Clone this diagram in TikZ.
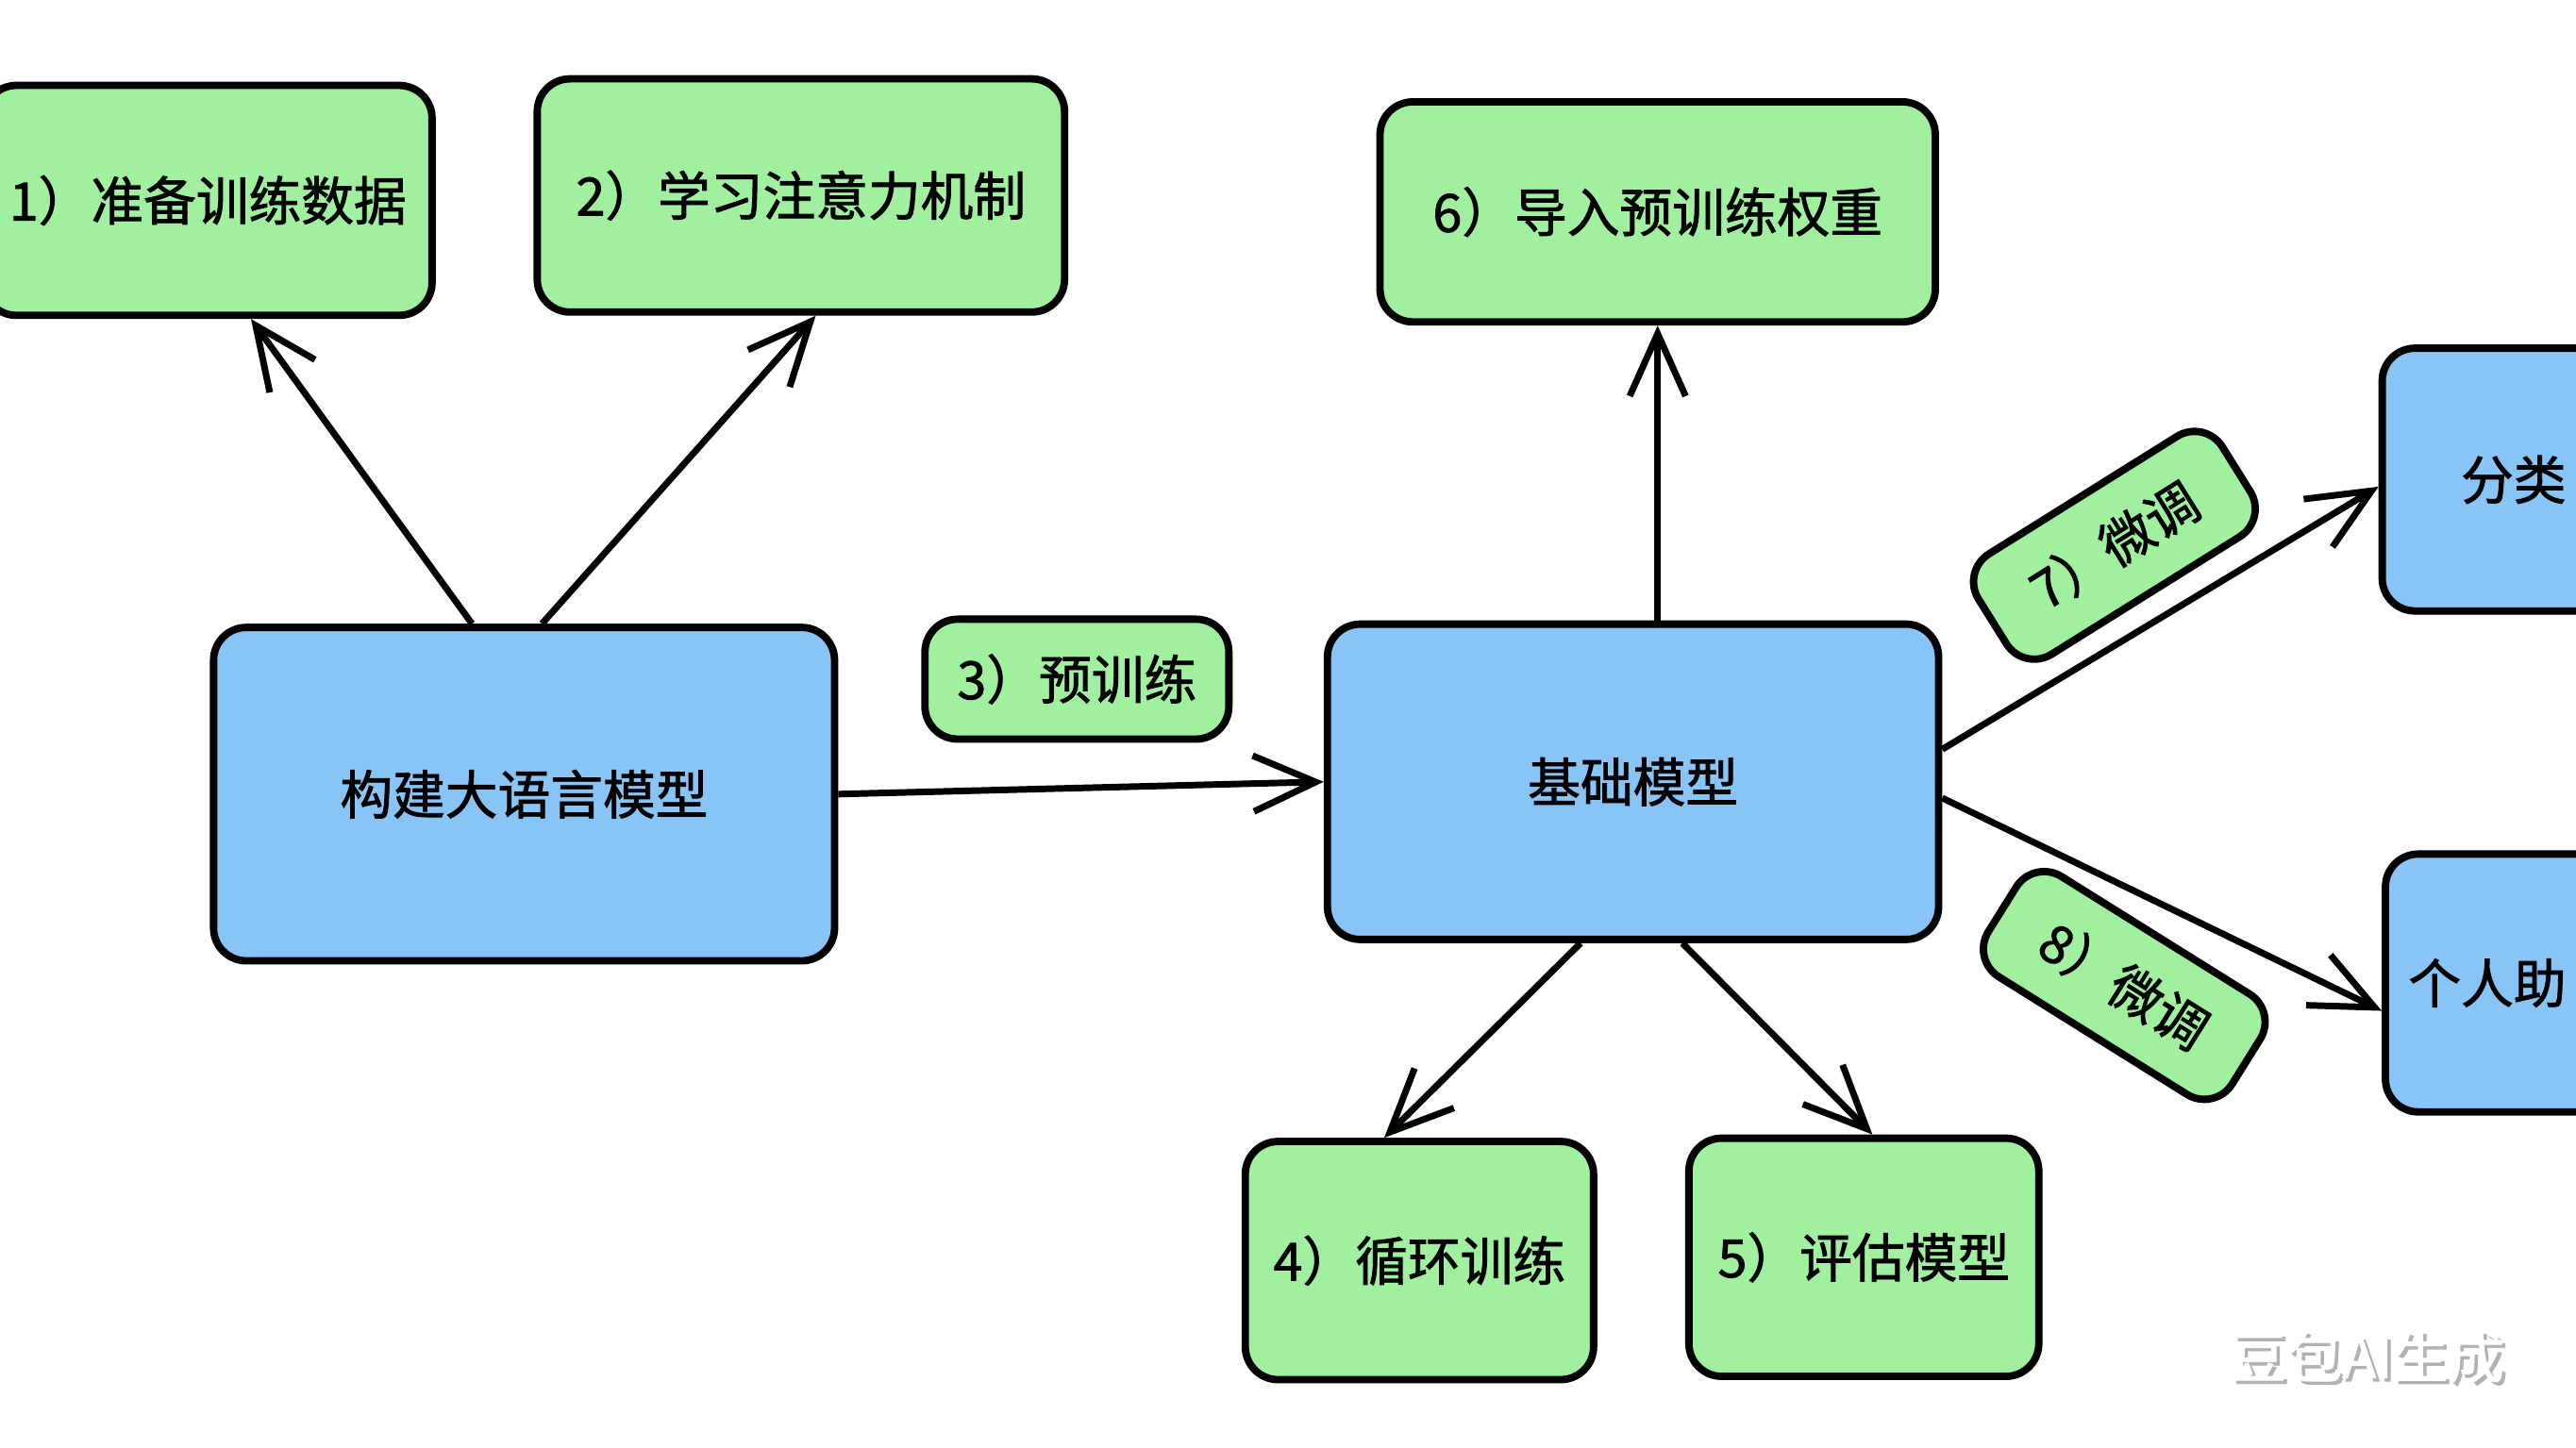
\documentclass[tikz,border=0pt]{standalone}
\usepackage{fontspec}
\newfontfamily\cjk{Noto Sans CJK SC}[BoldFont=Noto Sans CJK SC, BoldFeatures={FakeBold=1.5}]
\usetikzlibrary{arrows.meta}
\definecolor{boxgreen}{RGB}{160,240,160}
\definecolor{boxblue}{RGB}{136,196,246}

\begin{document}
\begin{tikzpicture}[x=1pt, y=-1pt,
    box/.style={draw=black, line width=4.5pt, rounded corners=20pt, inner sep=0pt,
        font=\cjk\bfseries\fontsize{32}{38}\selectfont},
    greenbox/.style={box, fill=boxgreen},
    bluebox/.style={box, fill=boxblue},
    conn/.style={line width=4pt, -{Straight Barb[length=38pt, width=34pt]}}]
    \fill[white] (0,0) rectangle (1568,881.6);
    \useasboundingbox (0,0) rectangle (1568,881.6);

    \node[greenbox, minimum width=273pt, minimum height=140pt] (prep) at (126.5,122) {1）准备训练数据};
    \node[greenbox, minimum width=321pt, minimum height=142pt] (attn) at (487.5,119) {2）学习注意力机制};
    \node[greenbox, minimum width=338pt, minimum height=134pt] (load) at (1009,129) {6）导入预训练权重};
    \node[bluebox, minimum width=378pt, minimum height=203pt] (build) at (319,483.5) {构建大语言模型};
    \node[greenbox, minimum width=185pt, minimum height=73pt] (pre) at (655.5,413.5) {3）预训练};
    \node[bluebox, minimum width=372pt, minimum height=192pt] (base) at (994,476) {基础模型};
    \node[greenbox, minimum width=175pt, minimum height=72pt, rotate=32] (tune7) at (1287,332) {7）微调};
    \node[greenbox, minimum width=175pt, minimum height=72pt, rotate=-32] (tune8) at (1293,600) {8）微调};
    \node[bluebox, minimum width=160pt, minimum height=160pt] (cls) at (1530,292) {分类};
    \node[bluebox, minimum width=170pt, minimum height=157pt, text width=142pt, align=left,
        inner xsep=14pt] (asst) at (1537,598.5) {个人助};
    \node[greenbox, minimum width=212pt, minimum height=145pt] (loop) at (864,767.5) {4）循环训练};
    \node[greenbox, minimum width=213pt, minimum height=145pt] (eval) at (1134.5,765.5) {5）评估模型};

    \node[text=black!30, font=\cjk\bfseries\fontsize{34}{40}\selectfont] (markshadow) at (1443,828) {豆包AI生成};
    \node[text=white, font=\cjk\bfseries\fontsize{34}{40}\selectfont] (mark) at (1441,826) {豆包AI生成};

    \draw[conn] (build.107) -- (prep.-70);
    \draw[conn] (build.84) -- (attn.-83);
    \draw[conn] (build.east) -- (base.west);
    \draw[conn] (load.south |- base.north) -- (load.south);
    \draw[conn] (base.-108) -- (loop.106);
    \draw[conn] (base.-73) -- (eval.86);
    \draw[conn] (base.6) -- (cls.183);
    \draw[conn] (base.-3) -- (asst.191);
\end{tikzpicture}
\end{document}
